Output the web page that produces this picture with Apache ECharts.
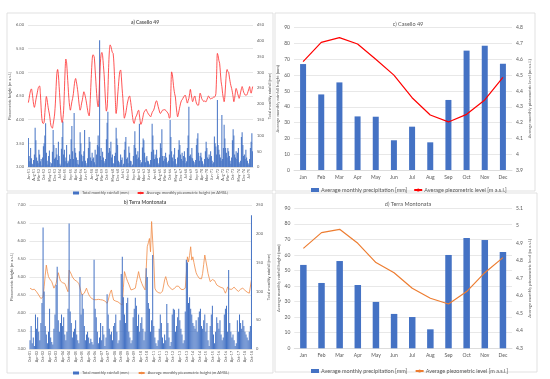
<!DOCTYPE html>
<html><head><meta charset="utf-8">
<script src="https://cdn.jsdelivr.net/npm/echarts@6/dist/echarts.min.js"></script>
<style>html,body{margin:0;padding:0;background:#fff}#c{width:550px;height:379px}</style>
</head><body><div id="c"></div>
<script>
const monthNames = ['Jan','Feb','Mar','Apr','May','Jun','Jul','Aug','Sep','Oct','Nov','Dec'];
const yearsA = [1951, 1975];           // panel a: Jan-51 .. Dec-75
const startB = [2001, 9], endB = [2018, 9]; // panel b: Oct-01 .. Oct-18

// a) Casello 49 - total monthly rainfall [mm]
const rainA = [
 92,35,18,60,28,10,8,22,40,124,85,30,
 20,12,55,40,18,25,5,30,66,75,100,139,
 45,20,8,35,52,15,2,12,48,117,70,26,
 30,60,40,22,80,35,10,5,58,95,144,40,
 55,18,30,70,12,20,15,40,25,88,130,50,
 25,171,60,45,30,10,22,8,50,110,75,40,
 18,35,50,117,20,12,5,28,60,95,80,30,
 20,45,25,30,15,55,8,40,70,100,65,402,
 35,60,22,48,30,18,12,25,88,140,175,45,
 60,50,80,30,40,12,10,35,45,124,90,70,
 20,15,8,40,22,30,5,10,55,80,95,25,
 30,12,65,45,20,18,3,8,35,70,113,60,
 40,25,50,30,137,22,10,15,62,90,85,45,
 15,30,35,20,18,10,6,22,48,137,100,55,
 25,40,30,55,28,12,8,30,75,60,120,35,
 20,35,25,45,30,15,10,20,40,149,95,50,
 30,18,40,60,25,10,5,30,55,85,70,40,
 25,45,20,35,50,30,12,18,60,100,191,35,
 40,30,60,28,20,15,8,22,70,90,107,45,
 20,35,45,30,18,10,5,25,50,80,60,30,
 25,40,30,50,35,20,10,15,97,75,65,40,
 212,70,55,40,30,20,165,25,60,134,90,60,
 45,30,60,50,35,20,10,30,85,120,100,40,
 30,50,25,45,60,15,10,20,95,110,70,35,
 40,25,55,30,20,12,8,25,60,80,107,50
];
// a) Casello 49 - average monthly piezometric height [m AMSL]
const piezoA = [
 4.36,4.45,4.55,4.62,4.65,4.58,4.45,4.32,4.26,4.32,4.42,4.50,
 4.58,4.66,4.70,4.71,4.55,4.25,4.02,3.93,3.92,3.95,4.15,4.35,
 4.49,4.42,4.30,4.20,4.12,4.00,3.88,3.84,3.82,3.90,4.00,4.12,
 4.35,4.70,4.98,5.06,4.95,4.70,4.45,4.20,4.00,3.94,4.02,4.20,
 4.60,5.05,5.28,5.20,4.95,4.70,4.45,4.28,4.20,4.28,4.38,4.45,
 4.55,4.70,4.82,4.87,4.80,4.70,4.58,4.42,4.28,4.20,4.25,4.35,
 4.42,4.52,4.59,4.55,4.48,4.40,4.30,4.20,4.12,4.08,4.25,4.60,
 4.95,5.25,5.37,5.36,5.30,5.05,4.80,4.55,4.35,4.27,4.45,4.85,
 5.20,5.38,5.42,5.35,5.15,4.95,4.65,4.35,4.18,4.25,4.60,5.10,
 5.45,5.58,5.55,5.48,5.42,5.40,5.20,4.85,4.40,4.13,4.25,4.50,
 4.70,4.90,5.02,5.05,4.90,4.65,4.45,4.20,4.03,4.08,4.15,4.25,
 4.35,4.42,4.48,4.50,4.42,4.30,4.18,4.05,3.95,3.92,3.98,4.05,
 4.08,4.12,4.18,4.20,4.10,3.98,3.90,3.93,4.00,4.08,4.15,4.18,
 4.20,4.22,4.18,4.15,4.12,4.10,4.08,4.06,4.10,4.15,4.18,4.20,
 4.25,4.32,4.38,4.40,4.35,4.28,4.22,4.16,4.13,4.15,4.18,4.20,
 4.20,4.22,4.20,4.20,4.18,4.16,4.14,4.10,4.03,4.05,4.60,5.01,
 4.95,4.80,4.65,4.55,4.48,4.30,4.15,4.06,4.12,4.20,4.28,4.35,
 4.40,4.42,4.45,4.48,4.50,4.52,4.48,4.40,4.35,4.40,4.45,4.55,
 4.64,4.55,4.45,4.38,4.42,4.48,4.50,4.42,4.35,4.32,4.30,4.31,
 4.45,4.56,4.52,4.45,4.42,4.40,4.38,4.40,4.38,4.38,4.42,4.46,
 4.50,4.48,4.45,4.44,4.45,4.45,4.46,4.48,4.48,4.49,4.55,4.95,
 5.40,5.35,5.25,5.19,5.00,4.80,4.70,4.55,4.45,4.38,4.50,4.75,
 4.98,5.06,5.02,5.00,4.90,4.80,4.72,4.66,4.58,4.48,4.38,4.45,
 4.58,4.66,4.62,4.55,4.50,4.45,4.50,4.58,4.65,4.70,4.65,4.58,
 4.55,4.52,4.52,4.52,4.55,4.60,4.65,4.70,4.60,4.56,4.62,4.70
];
// b) Terra Montonata - total monthly rainfall [mm], Oct-01 .. Oct-18
const rainB = [
 15,40,10,
 20,5,60,35,55,30,15,45,80,211,100,40,
 25,10,30,70,20,12,8,35,60,111,143,50,
 30,45,60,40,55,25,15,30,70,218,65,45,
 20,30,35,50,25,15,10,125,60,95,70,40,
 15,25,30,20,10,18,12,8,155,70,55,30,
 10,20,45,15,40,25,5,20,95,60,35,25,
 30,15,40,45,60,30,10,15,50,130,160,90,
 60,45,80,89,30,20,10,15,55,70,89,75,
 40,60,30,45,55,35,15,30,140,125,80,70,
 30,50,163,40,20,10,5,15,35,60,45,20,
 10,25,15,78,45,20,5,12,60,70,68,30,
 40,55,70,50,35,25,10,15,65,155,150,80,
 90,70,60,45,40,35,50,30,55,65,70,40,
 35,50,60,30,45,15,5,40,60,75,25,10,
 30,55,45,35,50,25,15,20,60,70,75,30,
 137,45,30,20,25,15,5,10,50,30,60,45,
 35,50,40,30,25,20,15,30,40,232
];
// b) Terra Montonata - average monthly piezometric height [m AMSL]
const piezoB = [
 4.69,4.67,4.65,4.66,4.66,4.62,4.59,4.55,4.50,4.45,4.40,4.36,
 4.45,4.73,5.05,5.33,5.15,5.01,4.95,4.90,4.87,4.78,4.69,4.75,
 4.82,4.87,5.12,5.00,4.89,4.86,4.84,4.83,4.82,4.75,4.66,4.59,
 5.19,5.15,5.08,5.00,4.95,4.92,4.90,4.88,4.85,4.82,4.70,4.58,
 4.50,4.52,4.55,4.57,4.69,4.60,4.52,4.46,4.41,4.40,4.38,4.37,
 4.36,4.37,4.38,4.38,4.38,4.37,4.37,4.36,4.36,4.33,4.30,4.27,
 4.35,4.48,4.58,4.64,4.48,4.36,4.35,4.33,4.32,4.31,4.28,4.26,
 4.24,4.22,4.70,5.15,5.05,4.95,4.87,4.80,4.72,4.64,4.65,4.66,
 4.68,4.69,4.85,5.00,5.15,5.00,4.90,4.82,4.75,4.70,4.64,5.20,
 5.84,5.95,6.07,5.70,6.54,6.00,5.47,4.69,4.62,4.60,4.57,4.56,
 4.55,4.53,4.60,4.75,4.92,5.01,4.90,4.78,4.74,4.70,4.67,4.65,
 4.64,4.68,4.72,4.75,4.78,4.74,4.70,4.66,4.64,4.65,4.67,4.69,
 5.10,5.56,5.42,5.60,5.84,5.47,5.56,5.40,5.25,5.12,5.05,5.00,
 4.96,4.92,4.95,5.10,5.35,5.61,5.45,5.28,5.10,4.98,4.87,4.90,
 4.93,4.96,4.90,4.84,4.78,4.76,4.74,4.72,4.71,4.70,4.69,4.62,
 4.55,4.62,4.72,4.68,4.66,4.64,4.66,4.70,4.72,4.68,4.65,4.62,
 4.60,4.62,4.66,4.68,4.69,4.66,4.63,4.60,4.58,4.56,4.55,4.56,
 4.92
];
// c) Casello 49 - monthly averages
const precipC = [67.0,47.8,55.4,33.9,33.7,18.8,27.4,17.5,44.3,75.5,78.6,67.2];
const levelC  = [4.585,4.707,4.737,4.697,4.600,4.500,4.357,4.248,4.204,4.252,4.343,4.486];
// d) Terra Montonata - monthly averages
const precipD = [53.6,42.0,56.1,40.7,29.8,22.1,20.1,12.2,60.0,70.9,69.6,61.9];
const levelD  = [4.871,4.961,4.980,4.900,4.790,4.732,4.643,4.586,4.553,4.624,4.732,4.818];

// category labels
const catsA = [];
for (let y = yearsA[0]; y <= yearsA[1]; y++) for (const m of monthNames) catsA.push(m + '-' + String(y).slice(2));
const catsB = [];
for (let y = startB[0], m = startB[1]; y < endB[0] || (y === endB[0] && m <= endB[1]); m++) {
  if (m > 11) { m = 0; y++; }
  catsB.push(monthNames[m] + '-' + String(y).slice(2));
}

const FONT = 'Lato, "Open Sans", sans-serif';
const TXT = '#595959';
const GRID = '#d9d9d9';
const BLUE = '#4472C4';

function yAx(gi, min, max, interval, pos, name, fs, nameFs, nameGap, fmt, split) {
  return {
    type: 'value', gridIndex: gi, min, max, interval, position: pos,
    name, nameLocation: 'middle', nameGap, nameRotate: 90,
    nameTextStyle: { fontSize: nameFs, color: TXT, fontFamily: FONT },
    axisLine: { show: false }, axisTick: { show: false },
    axisLabel: { fontSize: fs, color: TXT, fontFamily: FONT, margin: 4, formatter: fmt },
    splitLine: { show: split, lineStyle: { color: GRID, width: 0.6 } }
  };
}
function xAx(gi, data, fs, interval, rotate, margin) {
  return {
    type: 'category', gridIndex: gi, data,
    axisLine: { lineStyle: { color: GRID, width: 0.8 } }, axisTick: { show: false },
    axisLabel: { fontSize: fs, color: TXT, fontFamily: FONT, interval, rotate, margin }
  };
}
const f2 = v => v.toFixed(2);

const chart = echarts.init(document.getElementById('c'), null, { renderer: 'canvas' });
chart.setOption({
  animation: false,
  backgroundColor: '#fff',
  graphic: [
    { type: 'rect', shape: { x: 7, y: 13, width: 266, height: 178 }, style: { fill: 'none', stroke: GRID, lineWidth: 0.8 } },
    { type: 'rect', shape: { x: 275, y: 13, width: 260, height: 178 }, style: { fill: 'none', stroke: GRID, lineWidth: 0.8 } },
    { type: 'rect', shape: { x: 7, y: 193, width: 266, height: 180 }, style: { fill: 'none', stroke: GRID, lineWidth: 0.8 } },
    { type: 'rect', shape: { x: 275, y: 193, width: 262, height: 179 }, style: { fill: 'none', stroke: GRID, lineWidth: 0.8 } }
  ],
  title: [
    { text: 'a) Casello 49', left: 140, top: 15, textAlign: 'center', textStyle: { fontSize: 5, fontWeight: 'bold', color: TXT, fontFamily: FONT } },
    { text: 'c) Casello 49', left: 403, top: 16, textAlign: 'center', textStyle: { fontSize: 5.5, fontWeight: 'normal', color: TXT, fontFamily: FONT } },
    { text: 'b) Terra Montonata', left: 140, top: 195, textAlign: 'center', textStyle: { fontSize: 5, fontWeight: 'bold', color: TXT, fontFamily: FONT } },
    { text: 'd) Terra Montonata', left: 403, top: 196, textAlign: 'center', textStyle: { fontSize: 5.5, fontWeight: 'normal', color: TXT, fontFamily: FONT } }
  ],
  legend: [
    { left: 68, top: 186, itemWidth: 6, itemHeight: 3, itemGap: 8, textStyle: { fontSize: 4, color: TXT, fontFamily: FONT, padding: [0,0,0,-2] },
      data: [{ name: 'Total monthly rainfall [mm]', icon: 'rect' }, { name: 'Average monthly piezometric height [m AMSL]' }] },
    { left: 306, top: 182, itemWidth: 8, itemHeight: 4, itemGap: 6, textStyle: { fontSize: 5.5, color: TXT, fontFamily: FONT, padding: [0,0,0,-3] },
      data: [{ name: 'Average monthly precipitation [mm]', icon: 'rect' }, { name: 'Average piezometric level [m a.s.l.]' }] },
    { left: 68, top: 366, itemWidth: 6, itemHeight: 3, itemGap: 8, textStyle: { fontSize: 4, color: TXT, fontFamily: FONT, padding: [0,0,0,-2] },
      data: [{ name: 'Total monthly rainfall [mm] ', icon: 'rect' }, { name: 'Average monthly piezometric height [m AMSL] ' }] },
    { left: 306, top: 363, itemWidth: 8, itemHeight: 4, itemGap: 6, textStyle: { fontSize: 5.5, color: TXT, fontFamily: FONT, padding: [0,0,0,-3] },
      data: [{ name: 'Average monthly precipitation [mm] ', icon: 'rect' }, { name: 'Average piezometric level [m a.s.l.] ' }] }
  ],
  grid: [
    { left: 28, top: 25, width: 225, height: 142 },
    { left: 294, top: 27.7, width: 218, height: 142.3 },
    { left: 29.5, top: 205, width: 222.5, height: 144 },
    { left: 294.3, top: 208.3, width: 217.7, height: 140 }
  ],
  xAxis: [
    xAx(0, catsA, 3.6, 6, 90, 2),
    xAx(1, monthNames, 5, 0, 0, 5),
    xAx(2, catsB, 3.6, 5, 90, 2),
    xAx(3, monthNames, 5, 0, 0, 5)
  ],
  yAxis: [
    yAx(0, 3, 6, 0.5, 'left', 'Piezometric height [m a.s.l.]', 4, 4, 14, f2, true),
    yAx(0, 0, 450, 50, 'right', 'Total monthly rainfall [mm]', 4, 4, 14, null, false),
    yAx(1, 0, 90, 10, 'left', 'Average monthly rainfall height [mm]', 5, 4.2, 14, null, true),
    yAx(1, 3.9, 4.8, 0.1, 'right', 'Average monthly piezometric level [m a.s.l.]', 5, 4.2, 16, null, false),
    yAx(2, 3, 7, 0.5, 'left', 'Piezometric height [m a.s.l.]', 4, 4, 15, f2, true),
    yAx(2, 0, 250, 50, 'right', 'Total monthly rainfall [mm]', 4, 4, 14, null, false),
    yAx(3, 0, 90, 10, 'left', 'Average monthly rainfall height [mm]', 5, 4.2, 14, null, true),
    yAx(3, 4.3, 5.1, 0.1, 'right', 'Average monthly piezometric level [m a.s.l.]', 5, 4.2, 16, null, false)
  ],
  series: [
    { name: 'Total monthly rainfall [mm]', type: 'bar', xAxisIndex: 0, yAxisIndex: 1, data: rainA,
      barCategoryGap: '15%', itemStyle: { color: BLUE }, z: 2 },
    { name: 'Average monthly piezometric height [m AMSL]', type: 'line', xAxisIndex: 0, yAxisIndex: 0, data: piezoA,
      smooth: 0.3, symbol: 'none', lineStyle: { color: '#ff2a2a', width: 0.8 }, itemStyle: { color: '#ff2a2a' }, z: 3 },
    { name: 'Average monthly precipitation [mm]', type: 'bar', xAxisIndex: 1, yAxisIndex: 2, data: precipC,
      barWidth: 6, itemStyle: { color: BLUE } },
    { name: 'Average piezometric level [m a.s.l.]', type: 'line', xAxisIndex: 1, yAxisIndex: 3, data: levelC,
      symbol: 'none', lineStyle: { color: '#ff0000', width: 1.2 }, itemStyle: { color: '#ff0000' } },
    { name: 'Total monthly rainfall [mm] ', type: 'bar', xAxisIndex: 2, yAxisIndex: 5, data: rainB,
      barCategoryGap: '15%', itemStyle: { color: BLUE }, z: 3 },
    { name: 'Average monthly piezometric height [m AMSL] ', type: 'line', xAxisIndex: 2, yAxisIndex: 4, data: piezoB,
      symbol: 'none', lineStyle: { color: '#f08a45', width: 0.8 }, itemStyle: { color: '#f08a45' }, z: 2 },
    { name: 'Average monthly precipitation [mm] ', type: 'bar', xAxisIndex: 3, yAxisIndex: 6, data: precipD,
      barWidth: 6.5, itemStyle: { color: BLUE } },
    { name: 'Average piezometric level [m a.s.l.] ', type: 'line', xAxisIndex: 3, yAxisIndex: 7, data: levelD,
      symbol: 'none', lineStyle: { color: '#ED7D31', width: 1.2 }, itemStyle: { color: '#ED7D31' } }
  ]
});
</script>
</body></html>
